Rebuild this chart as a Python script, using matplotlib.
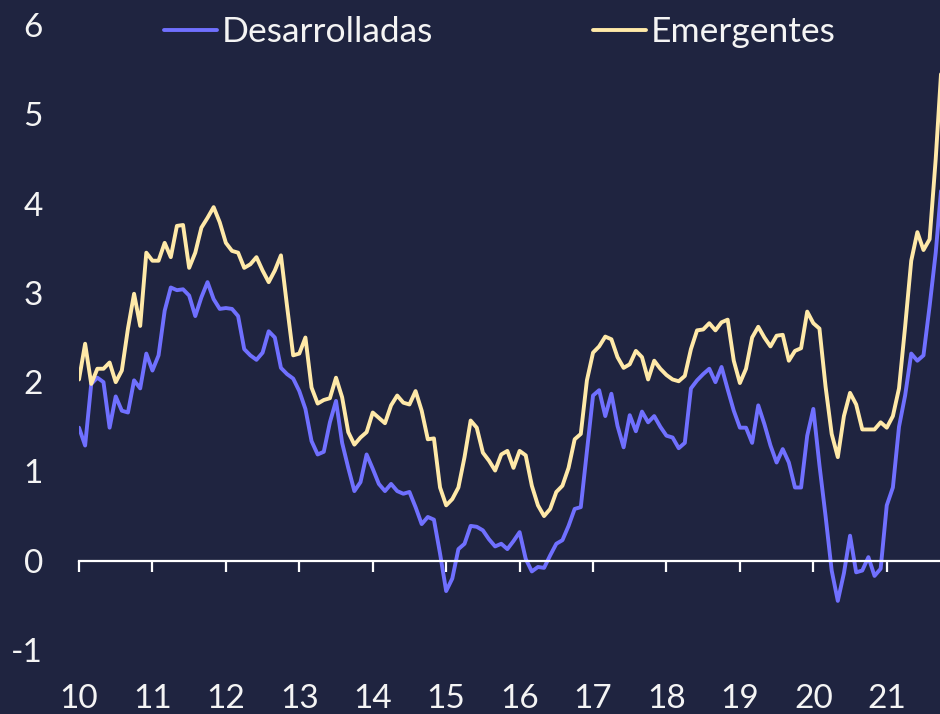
import matplotlib.pyplot as plt
import numpy as np

# monthly series, Jan 2010 .. Oct 2021
desarrolladas = [
    1.49, 1.29, 1.98, 2.05, 2.00, 1.49, 1.84, 1.68, 1.66, 2.02, 1.93, 2.32,
    2.13, 2.30, 2.80, 3.06, 3.03, 3.04, 2.97, 2.74, 2.95, 3.12, 2.93, 2.82,
    2.83, 2.82, 2.74, 2.37, 2.30, 2.25, 2.33, 2.57, 2.50, 2.16, 2.09, 2.04,
    1.90, 1.70, 1.34, 1.19, 1.22, 1.55, 1.79, 1.32, 1.04, 0.78, 0.88, 1.19,
    1.03, 0.86, 0.78, 0.86, 0.78, 0.75, 0.77, 0.60, 0.41, 0.49, 0.46, 0.08,
    -0.34, -0.20, 0.13, 0.19, 0.39, 0.38, 0.34, 0.24, 0.16, 0.19, 0.13, 0.22,
    0.32, 0.02, -0.12, -0.07, -0.08, 0.06, 0.19, 0.23, 0.39, 0.58, 0.60, 1.23,
    1.85, 1.91, 1.62, 1.87, 1.51, 1.27, 1.63, 1.45, 1.67, 1.55, 1.62, 1.50,
    1.40, 1.38, 1.26, 1.32, 1.93, 2.02, 2.09, 2.15, 2.00, 2.17, 1.92, 1.68,
    1.49, 1.49, 1.32, 1.74, 1.53, 1.29, 1.10, 1.25, 1.10, 0.82, 0.82, 1.40,
    1.70, 1.07, 0.50, -0.11, -0.45, -0.14, 0.28, -0.13, -0.11, 0.04, -0.17, -0.09,
    0.62, 0.82, 1.50, 1.85, 2.32, 2.24, 2.30, 2.85, 3.45, 4.25,
]
emergentes = [
    2.03, 2.43, 1.98, 2.15, 2.15, 2.22, 2.00, 2.13, 2.60, 2.99, 2.63, 3.45,
    3.36, 3.36, 3.56, 3.40, 3.75, 3.76, 3.28, 3.45, 3.73, 3.84, 3.96, 3.79,
    3.56, 3.47, 3.45, 3.28, 3.32, 3.40, 3.25, 3.12, 3.25, 3.42, 2.85, 2.30,
    2.32, 2.50, 1.94, 1.76, 1.80, 1.82, 2.05, 1.83, 1.44, 1.30, 1.38, 1.44,
    1.66, 1.60, 1.54, 1.74, 1.85, 1.77, 1.75, 1.90, 1.68, 1.36, 1.37, 0.82,
    0.62, 0.69, 0.82, 1.16, 1.57, 1.49, 1.21, 1.12, 1.01, 1.19, 1.23, 1.04,
    1.23, 1.18, 0.84, 0.62, 0.50, 0.58, 0.77, 0.84, 1.04, 1.36, 1.42, 2.02,
    2.33, 2.40, 2.51, 2.48, 2.28, 2.16, 2.20, 2.35, 2.28, 2.03, 2.24, 2.15,
    2.08, 2.03, 2.01, 2.07, 2.37, 2.58, 2.59, 2.66, 2.58, 2.67, 2.70, 2.24,
    1.99, 2.15, 2.50, 2.62, 2.50, 2.40, 2.52, 2.53, 2.24, 2.35, 2.38, 2.79,
    2.66, 2.60, 1.95, 1.42, 1.16, 1.62, 1.88, 1.75, 1.47, 1.47, 1.47, 1.55,
    1.49, 1.62, 1.93, 2.62, 3.36, 3.68, 3.48, 3.60, 4.50, 5.60,
]
year_labels = ['10', '11', '12', '13', '14', '15', '16', '17', '18', '19', '20', '21']
y_ticks = [-1, 0, 1, 2, 3, 4, 5, 6]

bg = '#1f2440'
blue = '#7070ff'
yellow = '#ffe9a8'
txt = '#f4f4f4'

plt.rcParams['font.family'] = ['Lato', 'DejaVu Sans']

months = np.arange(len(desarrolladas))

fig = plt.figure(figsize=(9.4, 7.14), dpi=100, facecolor=bg)
ax = fig.add_axes([79 / 940, 64 / 714, 1 - 79 / 940, 625 / 714])
ax.set_facecolor(bg)

ax.plot(months, desarrolladas, color=blue, lw=2.8, label='Desarrolladas', solid_capstyle='round')
ax.plot(months, emergentes, color=yellow, lw=2.8, label='Emergentes', solid_capstyle='round')

ax.set_xlim(0, 140.7)
ax.set_ylim(-1, 6)

for s in ['top', 'right', 'left']:
    ax.spines[s].set_visible(False)
ax.spines['bottom'].set_position(('data', 0))
ax.spines['bottom'].set_color('white')
ax.spines['bottom'].set_linewidth(1.6)

ax.set_xticks(np.arange(0, 12 * len(year_labels), 12))
ax.set_xticklabels(year_labels)
ax.set_yticks(y_ticks)
ax.set_yticklabels([str(v) for v in y_ticks])
ax.tick_params(axis='x', length=8, width=1.6, color='white', pad=81,
               labelsize=24, labelcolor=txt)
ax.tick_params(axis='y', length=0, pad=26, labelsize=24, labelcolor=txt)

leg = fig.legend(loc='center', bbox_to_anchor=(500 / 940, 1 - 32 / 714), ncol=2,
                 frameon=False, fontsize=25.5, handlelength=1.5, handletextpad=0.14,
                 columnspacing=4.5, labelcolor=txt)

fig.savefig('out.png', dpi=100, facecolor=bg)
